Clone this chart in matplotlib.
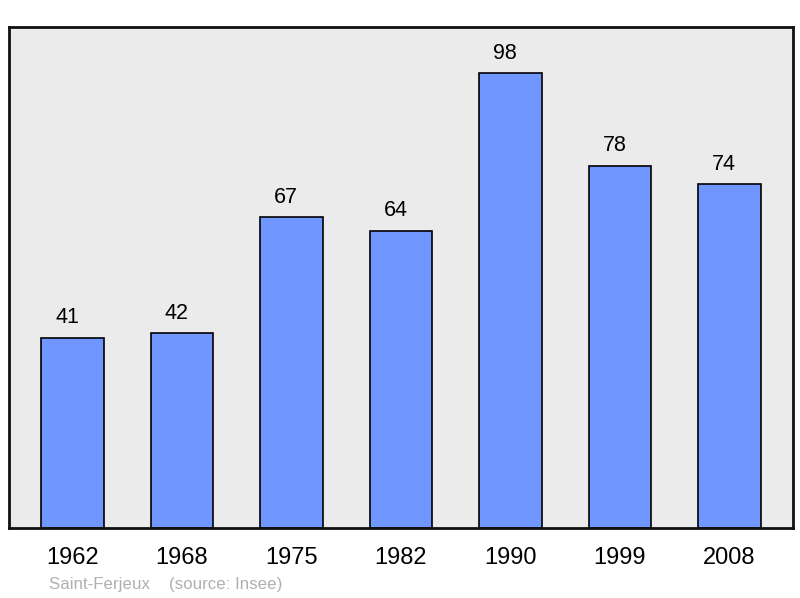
import matplotlib.pyplot as plt

plt.rcParams['font.family'] = ['Liberation Sans', 'DejaVu Sans']

years = ['1962', '1968', '1975', '1982', '1990', '1999', '2008']
population = [41, 42, 67, 64, 98, 78, 74]

fig = plt.figure(figsize=(8, 5.98), dpi=100)
ax = fig.add_axes([0.01125, 0.1171, 0.98, 0.8378])
ax.set_facecolor('#ebebeb')

x = range(len(years))
ax.bar(x, population, width=0.575, color='#7096ff', edgecolor='black', linewidth=1.2, zorder=2)
for i, v in zip(x, population):
    ax.annotate(str(v), (i, v), xytext=(-4, 14.3), textcoords='offset points',
                ha='center', va='center', fontsize=15.5)

ax.set_xlim(-0.58, 6.58)
ax.set_ylim(0, 107.9)
ax.set_yticks([])
ax.set_xticks(list(x))
ax.set_xticklabels(years, fontsize=17)
ax.tick_params(axis='x', length=0, pad=13.5)
for s in ax.spines.values():
    s.set_linewidth(2)
    s.set_color('#111111')

fig.text(49 / 800, 1 - 584 / 598, 'Saint-Ferjeux    (source: Insee)', color='#b0b0b0',
         fontsize=12.2, ha='left', va='center')

fig.savefig('out.png', dpi=100)
